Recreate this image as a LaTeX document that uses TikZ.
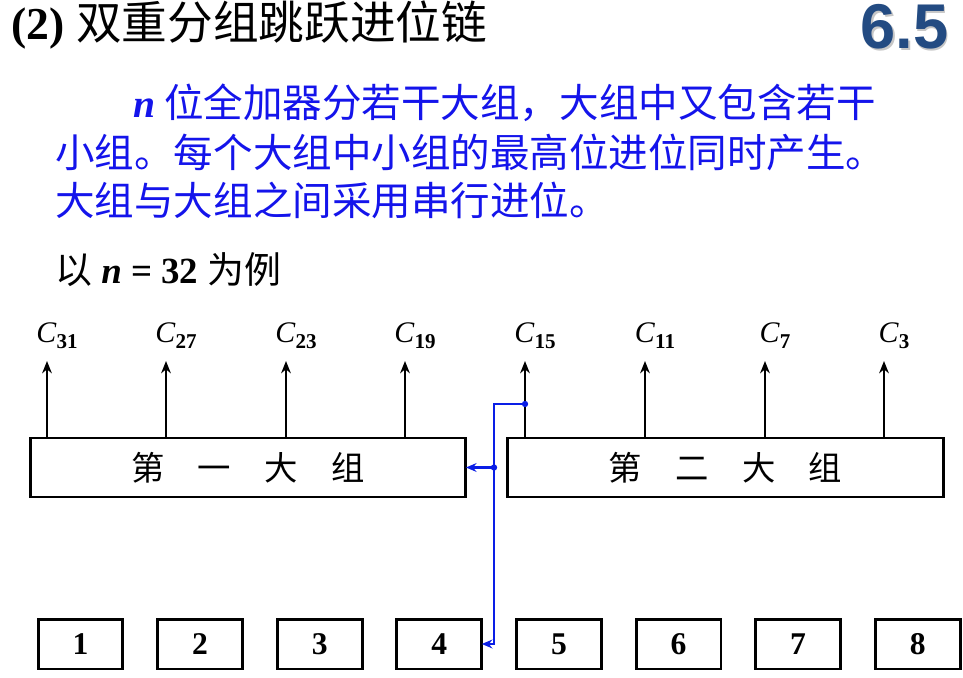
\documentclass[tikz,border=0pt]{standalone}
\usepackage{fontspec}
\setmainfont{Liberation Serif}
\newfontfamily\cjk{Noto Sans CJK SC}
\newfontfamily\headsans{Liberation Sans}
\usetikzlibrary{arrows.meta}
\definecolor{textblue}{RGB}{20,20,235}
\definecolor{lineblue}{RGB}{10,30,230}
\definecolor{headblue}{RGB}{35,75,130}
\tikzset{
  bigbox/.style={draw,line width=1.7pt,minimum width=8.72cm,minimum height=1.18cm,inner sep=0pt,outer sep=0pt,font=\cjk\fontsize{19}{22}\selectfont},
  smallbox/.style={draw,line width=1.7pt,minimum width=1.7cm,minimum height=1.0cm,inner sep=0pt,outer sep=0pt,font=\bfseries\fontsize{18}{20}\selectfont},
  clabel/.style={inner sep=0pt,font=\fontsize{17}{19}\selectfont},
  carryout/.style={line width=1.15pt,-{Stealth[length=7pt,width=5.5pt]}},
  carry/.style={lineblue,line width=1.4pt,-{Stealth[length=6pt,width=5pt]}},
  para/.style={anchor=west,inner sep=0pt,textblue,font=\cjk\fontsize{22.5}{26}\selectfont}
}
\newcommand{\cname}[1]{\textit{C}\raisebox{-0.45ex}{\bfseries\fontsize{12}{13}\selectfont #1}}
\begin{document}
\begin{tikzpicture}[x=0.02cm,y=-0.02cm]
  \fill[white] (0,0) rectangle (963,678);
  \useasboundingbox (0,0) rectangle (963,678);
  % heading
  \node[anchor=west,inner sep=0pt] (title) at (11,25) {\fontsize{26}{30}\selectfont\textbf{(2)} \cjk 双重分组跳跃进位链};
  \node[anchor=east,inner sep=0pt,gray!45,font=\headsans\bfseries\fontsize{36}{40}\selectfont] (numshadow) at (950.5,28.5) {6.5};
  \node[anchor=east,inner sep=0pt,headblue,font=\headsans\bfseries\fontsize{36}{40}\selectfont] (num) at (949,27) {6.5};
  % text
  \node[para] (line1) at (133,103) {{\rmfamily\bfseries\itshape n} 位全加器分若干大组，大组中又包含若干};
  \node[para] (line2) at (55,152) {小组。每个大组中小组的最高位进位同时产生。};
  \node[para] (line3) at (55,200) {大组与大组之间采用串行进位。};
  \node[anchor=west,inner sep=0pt,font=\fontsize{21}{24}\selectfont] (example) at (55,270) {{\cjk 以} \textbf{\textit{n} = 32} {\cjk 为例}};
  % big groups
  \node[bigbox] (g1) at (248,467.5) {第\quad 一\quad 大\quad 组};
  \node[bigbox] (g2) at (725.5,467.5) {第\quad 二\quad 大\quad 组};
  \foreach \k/\x in {31/47,27/166,23/286,19/405,15/525,11/645,7/765,3/884} {
    \coordinate (t\k) at (\x,361);
    \node[clabel] (c\k) at (\x+10,336) {\cname{\k}};
    \draw[carryout] (t\k |- g1.north) -- (t\k);
  }
  % small groups
  \foreach \i in {1,...,8} {
    \node[smallbox] (b\i) at ({80.5+119.6*(\i-1)},644) {\i};
  }
  % carry from the second group
  \coordinate (j1) at (525,404);
  \coordinate (bus) at (494,404);
  \draw[carry] (j1) -- (bus) |- (b4.east);
  \draw[carry] (bus |- g1.east) -- (g1.east);
  \fill[lineblue] (j1) circle[radius=1.8pt];
  \fill[lineblue] (bus |- g1.east) circle[radius=1.8pt];
\end{tikzpicture}
\end{document}
